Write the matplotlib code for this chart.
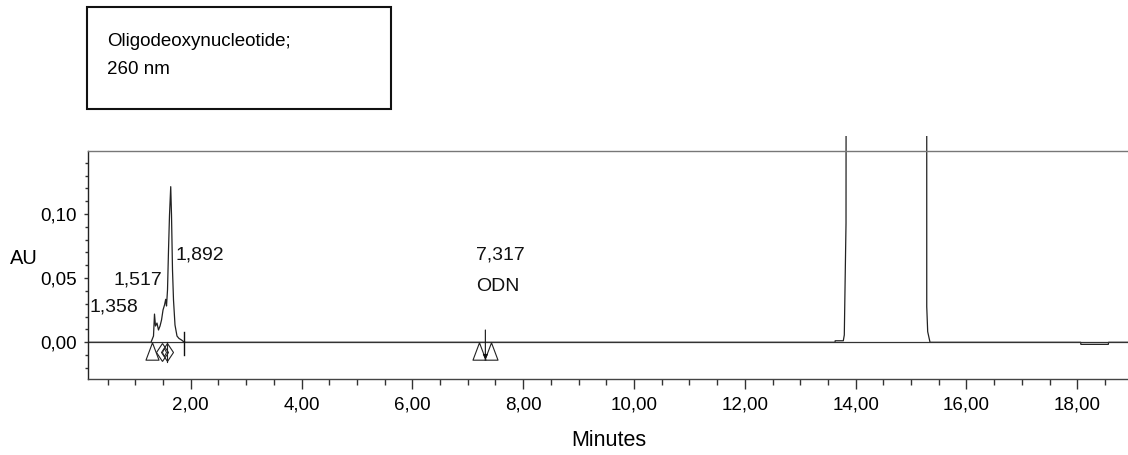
import matplotlib
matplotlib.use("Agg")
import matplotlib.pyplot as plt
from matplotlib.patches import Rectangle
from matplotlib.ticker import FixedLocator, MultipleLocator, FuncFormatter

plt.rcParams['font.family'] = ['Liberation Sans', 'DejaVu Sans']

# ---------------- data ----------------
time_min = [0.146, 1.283, 1.328, 1.346, 1.364, 1.391, 1.418, 1.446, 1.473, 1.500,
            1.527, 1.548, 1.563, 1.581, 1.599, 1.617, 1.639, 1.653, 1.671, 1.689,
            1.716, 1.752, 1.788, 1.834, 1.879, 1.915,
            13.628, 13.630, 13.777, 13.795, 13.826, 13.838,
            15.282, 15.283, 15.300, 15.342,
            18.060, 18.065, 18.560, 18.565, 18.915]
absorbance_au = [0.0, 0.0, 0.0049, 0.0220, 0.0127, 0.0150, 0.0096, 0.0127, 0.0174, 0.0252,
                 0.0291, 0.0335, 0.0283, 0.0408, 0.0719, 0.0992, 0.1213, 0.0992, 0.0564, 0.0330,
                 0.0135, 0.0049, 0.0030, 0.0018, 0.0002, 0.0,
                 0.0, 0.0012, 0.0012, 0.0057, 0.0928, 0.9000,
                 0.9000, 0.0277, 0.0083, 0.0,
                 0.0, -0.0016, -0.0016, 0.0, 0.0]

triangle_times = [1.296, 7.21, 7.41]
diamond_times = [1.476, 1.578]
end_marker_times = [1.884]
odn_time = 7.317

peak_label_texts = ['1,358', '1,517', '1,892', '7,317', 'ODN']
peak_label_times = [0.182, 0.603, 1.734, 7.15, 7.15]
peak_label_values = [0.0279, 0.0486, 0.0683, 0.0680, 0.0433]

x_major_ticks = [2, 4, 6, 8, 10, 12, 14, 16, 18]
y_major_ticks = [0.0, 0.05, 0.10]

box_lines = ['Oligodeoxynucleotide;', '260 nm']

# ---------------- figure ----------------
W, H = 1128, 455
fig = plt.figure(figsize=(W / 100, H / 100), dpi=100)
ax = fig.add_axes([88 / W, 1 - 379 / H, (W - 88) / W, (379 - 151) / H])

ax.set_xlim(0.146, 18.915)
ax.set_ylim(-0.0286, 0.1491)

line, = ax.plot(time_min, absorbance_au, color='#222222', lw=0.9)
clip = Rectangle((0, -0.05), 1, 1.05 + 15 / 228, transform=ax.transAxes)
line.set_clip_path(clip)

# baseline
ax.axhline(0, color='#333333', lw=0.9)

# peak markers
tri_marker = [(0, 1), (-0.75, -1), (0.75, -1), (0, 1)]
ax.plot(triangle_times, [-0.0069] * len(triangle_times), linestyle='none',
        marker=tri_marker, markersize=12.5, markerfacecolor='none',
        markeredgecolor='#222222', markeredgewidth=0.8, clip_on=False)
ax.plot(diamond_times, [-0.0079] * len(diamond_times), linestyle='none',
        marker='d', markersize=9.5, markerfacecolor='none',
        markeredgecolor='#222222', markeredgewidth=0.8, clip_on=False)
ax.plot([diamond_times[0] + 0.05], [-0.0079], linestyle='none', marker='d',
        markersize=4, markerfacecolor='none', markeredgecolor='#222222',
        markeredgewidth=0.7)
for t in end_marker_times:
    ax.plot([t, t], [0.0083, -0.0099], color='#111111', lw=1.0)
ax.plot([diamond_times[1], diamond_times[1]], [0.0, -0.0150], color='#222222', lw=0.8)
ax.annotate('', xy=(odn_time, -0.0135), xytext=(odn_time, 0.0096),
            arrowprops=dict(arrowstyle='-|>', lw=0.8, color='#111111',
                            mutation_scale=7, shrinkA=0, shrinkB=0))

for txt, tx, ty in zip(peak_label_texts, peak_label_times, peak_label_values):
    ax.text(tx, ty, txt, fontsize=14, ha='left', va='center', color='#111111')

# spines
ax.spines['right'].set_visible(False)
ax.spines['top'].set_color('#777777')
ax.spines['left'].set_color('#222222')
ax.spines['bottom'].set_color('#444444')
for s in ax.spines.values():
    s.set_linewidth(1.0)

# ticks
ax.xaxis.set_major_locator(FixedLocator(x_major_ticks))
ax.xaxis.set_minor_locator(MultipleLocator(0.5))
ax.xaxis.set_major_formatter(FuncFormatter(lambda v, p: f"{v:.2f}".replace('.', ',')))
ax.yaxis.set_major_locator(FixedLocator(y_major_ticks))
ax.yaxis.set_minor_locator(MultipleLocator(0.01))
ax.yaxis.set_major_formatter(FuncFormatter(lambda v, p: f"{v:.2f}".replace('.', ',').replace('-', '')))

ax.tick_params(axis='x', which='major', length=7.5, width=1, color='#333333',
               labelsize=13.5, pad=5, direction='out')
ax.tick_params(axis='x', which='minor', length=4.5, width=1, color='#333333', direction='out')
ax.tick_params(axis='y', which='major', length=3, width=1, color='#333333',
               labelsize=13.5, pad=5, direction='out')
ax.tick_params(axis='y', which='minor', length=2.2, width=1, color='#333333', direction='out')

# axis labels
fig.text(609 / W, 1 - 441 / H, 'Minutes', fontsize=15.5, ha='center', va='center')
fig.text(24 / W, 1 - 258 / H, 'AU', fontsize=14.5, ha='center', va='center')

# annotation box
fig.patches.append(Rectangle((87 / W, 1 - 109 / H), 304 / W, 102 / H,
                             transform=fig.transFigure, fill=False,
                             edgecolor='#111111', linewidth=1.5))
fig.text(107 / W, 1 - 41 / H, box_lines[0], fontsize=13.5, ha='left', va='center')
fig.text(107 / W, 1 - 70 / H, box_lines[1], fontsize=13.5, ha='left', va='center')

fig.savefig('out.png', dpi=100)
